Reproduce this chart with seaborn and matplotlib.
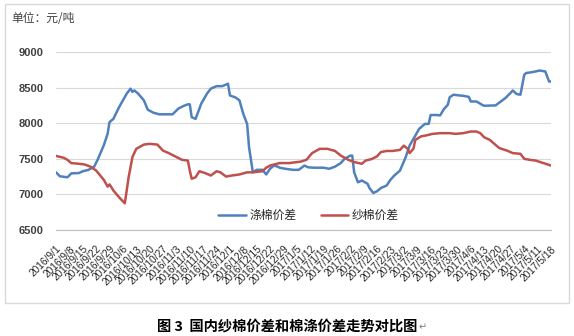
import matplotlib
matplotlib.use("Agg")
import matplotlib.pyplot as plt
from matplotlib.patches import Rectangle
import seaborn as sns
import pandas as pd

# ---------------- data ----------------
start = pd.Timestamp("2016-09-01")

blue_days = [0, 2, 6, 8, 12, 14, 17, 20, 22, 25, 27, 28, 30, 33, 37, 39, 40, 41, 43, 46,
             48, 51, 54, 58, 61, 64, 67, 69, 70, 71, 73, 74, 76, 79, 81, 84, 87, 90, 91, 94,
             96, 98, 100, 101, 103, 105, 108, 110, 112, 114, 116, 117, 120, 124, 127, 130, 132, 135, 140, 143,
             146, 149, 151, 154, 155, 156, 158, 160, 163, 164, 166, 168, 170, 173, 175, 177, 180, 183, 185, 188,
             190, 193, 195, 196, 199, 201, 203, 205, 206, 208, 211, 213, 216, 217, 220, 223, 224, 230, 233, 235,
             238, 239, 241, 243, 245, 246, 248, 251, 253, 256, 258, 259]
blue_vals = [7310, 7255, 7240, 7295, 7300, 7325, 7345, 7390, 7500, 7690, 7850, 8015, 8060, 8225, 8415, 8485, 8440, 8460, 8415, 8320,
             8190, 8147, 8125, 8125, 8125, 8205, 8245, 8265, 8265, 8085, 8060, 8130, 8275, 8415, 8485, 8520, 8520, 8555, 8390, 8360,
             8320, 8130, 7990, 7665, 7310, 7345, 7345, 7280, 7360, 7405, 7390, 7375, 7360, 7345, 7345, 7405, 7380, 7375, 7375, 7360,
             7390, 7440, 7500, 7545, 7545, 7310, 7170, 7195, 7150, 7090, 7020, 7045, 7090, 7125, 7205, 7265, 7335, 7525, 7685, 7825,
             7920, 7990, 7990, 8115, 8115, 8110, 8200, 8258, 8365, 8400, 8390, 8385, 8370, 8305, 8305, 8258, 8245, 8250, 8310, 8350,
             8430, 8460, 8410, 8400, 8680, 8705, 8712, 8727, 8740, 8727, 8585, 8585]

red_days = [0, 4, 6, 8, 12, 15, 18, 21, 23, 25, 27, 28, 29, 30, 33, 36, 37, 38, 40, 42,
            46, 49, 53, 56, 59, 63, 66, 69, 70, 71, 73, 75, 78, 81, 84, 86, 89, 92, 96, 100,
            103, 108, 110, 112, 117, 122, 128, 131, 134, 136, 138, 142, 146, 149, 153, 156, 160, 162, 165, 168,
            170, 173, 176, 180, 182, 184, 185, 187, 188, 191, 194, 197, 201, 206, 209, 213, 217, 220, 222, 224,
            227, 230, 232, 236, 239, 243, 245, 248, 251, 255, 259]
red_vals = [7540, 7515, 7485, 7440, 7430, 7420, 7390, 7335, 7270, 7205, 7110, 7140, 7100, 7055, 6960, 6875, 7055, 7240, 7525, 7640,
            7700, 7710, 7700, 7615, 7580, 7525, 7485, 7475, 7335, 7220, 7240, 7325, 7300, 7265, 7325, 7310, 7250, 7265, 7280, 7310,
            7310, 7325, 7375, 7405, 7440, 7440, 7460, 7485, 7580, 7610, 7640, 7640, 7610, 7545, 7485, 7455, 7430, 7475, 7495, 7535,
            7595, 7610, 7610, 7625, 7685, 7640, 7580, 7640, 7765, 7815, 7830, 7850, 7860, 7860, 7850, 7860, 7883, 7883, 7860, 7803,
            7765, 7695, 7650, 7615, 7580, 7570, 7500, 7485, 7475, 7440, 7405]

series_names = ["涤棉价差", "纱棉价差"]
colors = ["#4F81BD", "#C0504D"]
y_ticks = [6500, 7000, 7500, 8000, 8500, 9000]
unit_label = "单位：元/吨"
caption = "图 3  国内纱棉价差和棉涤价差走势对比图"
tick_dates = pd.date_range("2016-09-01", "2017-05-18", freq="7D")
tick_labels = [f"{d.year}/{d.month}/{d.day}" for d in tick_dates]

df = pd.concat([
    pd.DataFrame({"date": start + pd.to_timedelta(blue_days, unit="D"), "value": blue_vals, "series": series_names[0]}),
    pd.DataFrame({"date": start + pd.to_timedelta(red_days, unit="D"), "value": red_vals, "series": series_names[1]}),
], ignore_index=True)

# ---------------- drawing ----------------
sns.set_theme(style="white")
plt.rcParams["font.family"] = ["Noto Sans CJK SC", "DejaVu Sans"]

W, H = 574, 336
fig = plt.figure(figsize=(W / 100, H / 100), dpi=100)
ax = fig.add_axes([56 / W, 1 - 230 / H, (551 - 56) / W, (230 - 52) / H])

sns.lineplot(data=df, x="date", y="value", hue="series", hue_order=series_names,
             palette=colors, estimator=None, linewidth=1.8, ax=ax, legend=True)

ax.set_xlim(tick_dates[0], tick_dates[-1])
ax.set_ylim(6500, 9000)
ax.set_yticks(y_ticks)
ax.set_yticklabels([str(v) for v in y_ticks], family=["Liberation Sans"], fontweight="bold",
                   fontsize=8, color="#404040")
ax.set_xticks(tick_dates)
ax.set_xticklabels(tick_labels, rotation=45, ha="right", rotation_mode="anchor",
                   family=["Liberation Sans"], fontsize=7.3, color="#262626")
ax.set_xlabel("")
ax.set_ylabel("")
ax.grid(axis="y", color="#D9D9D9", linewidth=0.8)
ax.grid(axis="x", visible=False)
for s in ["top", "right", "left"]:
    ax.spines[s].set_visible(False)
ax.spines["bottom"].set_color("#BFBFBF")
ax.spines["bottom"].set_linewidth(0.8)
ax.tick_params(axis="x", direction="out", length=3, width=0.6, color="#BFBFBF", pad=7)
ax.tick_params(axis="y", length=0, pad=9)

handles, labels = ax.get_legend_handles_labels()
ax.get_legend().remove()
fig.legend(handles, labels, loc="center", bbox_to_anchor=(308.5 / W, 1 - 215.5 / H), ncol=2,
           frameon=False, fontsize=8.5, handlelength=2.3, handletextpad=0.3, columnspacing=2.1)

fig.text(11 / W, 1 - 18 / H, unit_label, fontsize=8.5, color="#404040", va="center", ha="left")

fig.patches.append(Rectangle((5 / W, 1 - 303 / H), (569 - 5) / W, (303 - 4) / H,
                             transform=fig.transFigure, fill=False, edgecolor="#D9D9D9", linewidth=1))

cap = fig.text(157 / W, 1 - 327 / H, caption, fontsize=10.3, fontweight="bold", color="black",
               va="center", ha="left")
fig.text(0, 0, "↵", fontsize=7, color="#7F7F7F", va="center", ha="left",
         family=["DejaVu Sans"], transform=matplotlib.transforms.offset_copy(
             fig.transFigure, fig=fig, x=0, y=0))
fig.texts[-1].remove()
ax.annotate("↵", xy=(1, 0.5), xycoords=cap, xytext=(1, 0), textcoords="offset points",
            fontsize=7, color="#7F7F7F", va="center", ha="left", family=["DejaVu Sans"],
            annotation_clip=False)

fig.savefig("out.png", dpi=100)
